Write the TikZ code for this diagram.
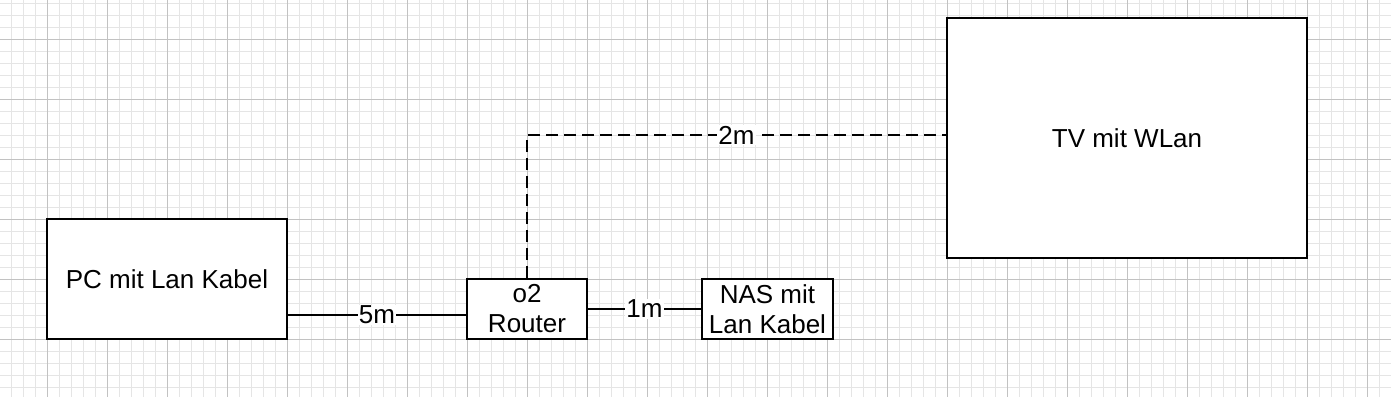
\documentclass[tikz,border=0pt]{standalone}
\usepackage{fontspec}
\setmainfont{Liberation Sans}
\usetikzlibrary{positioning}

\begin{document}
\begin{tikzpicture}[
    x=1pt, y=-1pt,
    font=\fontsize{26}{30}\selectfont,
    gridminor/.style={draw=black!10, line width=0.8pt},
    gridmajor/.style={draw=black!24, line width=1pt},
    box/.style={draw, line width=2pt, align=center, inner sep=0pt, fill=white},
    cable/.style={line width=1.6pt},
    wlan/.style={line width=1.6pt, dash pattern=on 12pt off 6pt},
    dist/.style={fill=white, inner sep=1pt}
  ]
    \useasboundingbox (0,0) rectangle (1391,397);
    % grid paper
    \foreach \x in {11,23,...,1391} \draw[gridminor] (\x,0) -- (\x,397);
    \foreach \y in {3,15,...,397} \draw[gridminor] (0,\y) -- (1391,\y);
    \foreach \x in {47,107,...,1391} \draw[gridmajor] (\x,0) -- (\x,397);
    \foreach \y in {39,99,...,397} \draw[gridmajor] (0,\y) -- (1391,\y);

    \node[box, minimum width=240pt, minimum height=120pt] (pc) at (167,279) {PC mit Lan Kabel};
    \node[box, minimum width=360pt, minimum height=240pt] (tv) at (1127,138) {TV mit WLan};
    \node[box, minimum width=120pt, minimum height=60pt] (router) at (527,309) {o2\\Router};
    \node[box, minimum width=131pt, minimum height=60pt] (nas) at (767.5,309) {NAS mit\\Lan Kabel};

    \draw[cable] (pc.east |- 0,315) -- node[dist] {5m} (router.west |- 0,315);
    \draw[cable] (router) -- node[dist] {1m} (nas);
    \draw[wlan] (router.north) |- node[dist, pos=0.75] {2m} (tv.west |- 0,135);
\end{tikzpicture}
\end{document}
